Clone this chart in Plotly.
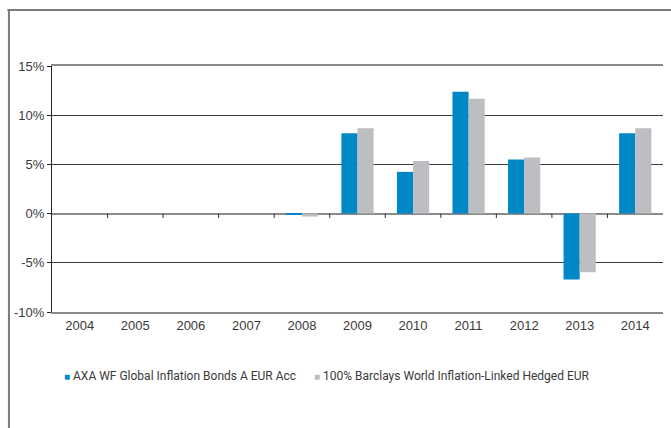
import plotly.graph_objects as go

# Calendar-year returns (%)
years = ["2004", "2005", "2006", "2007", "2008", "2009", "2010", "2011", "2012", "2013", "2014"]
fund_name = "AXA WF Global Inflation Bonds A EUR Acc"
bench_name = "100% Barclays World Inflation-Linked Hedged EUR"
fund_returns = [None, None, None, None, -0.1, 8.16, 4.24, 12.38, 5.51, -6.7, 8.16]
bench_returns = [None, None, None, None, -0.3, 8.67, 5.34, 11.66, 5.7, -5.96, 8.67]
y_ticks = [-10, -5, 0, 5, 10, 15]
y_tick_labels = ["-10%", "-5%", "0%", "5%", "10%", "15%"]

BLUE = "#0088c6"
GREY = "#bdbec2"
TEXT = "#3a3a3a"
AXIS_FONT = "Liberation Sans, Arial, sans-serif"
LEGEND_FONT = "Roboto, Liberation Sans, sans-serif"

fig = go.Figure()
fig.add_trace(go.Bar(x=years, y=fund_returns, name=fund_name,
                     marker=dict(color=BLUE, line=dict(width=0))))
fig.add_trace(go.Bar(x=years, y=bench_returns, name=bench_name,
                     marker=dict(color=GREY, line=dict(width=0))))

# small category separators hanging below the zero line
shapes = []
for i in range(len(years) - 1):
    shapes.append(dict(type="line", xref="x", yref="y", x0=i + 0.5, x1=i + 0.5,
                       y0=0, y1=-0.45, line=dict(color="#333333", width=1)))

# outer frame (top and left rules)
shapes.append(dict(type="line", xref="paper", yref="paper", x0=-0.073, x1=1.02,
                   y0=1.2276, y1=1.2276, line=dict(color="#7a7a7a", width=2)))
shapes.append(dict(type="line", xref="paper", yref="paper", x0=-0.0705, x1=-0.0705,
                   y0=1.2276, y1=-0.48, line=dict(color="#7a7a7a", width=2)))

# legend rendered as a line of text with small coloured squares
legend_html = (f"<span style='color:{BLUE};font-size:10px'>■</span> {fund_name}"
               f"      <span style='color:{GREY};font-size:10px'>■</span> {bench_name}")
annotations = [dict(xref="paper", yref="paper", x=0.016, y=-0.26, xanchor="left",
                    yanchor="middle", showarrow=False, text=legend_html,
                    font=dict(family=LEGEND_FONT, size=12, color=TEXT))]

fig.update_layout(
    width=671, height=428,
    margin=dict(l=52, r=8, t=66, b=116),
    paper_bgcolor="white", plot_bgcolor="white",
    barmode="group", bargap=0.42, bargroupgap=0,
    showlegend=False,
    shapes=shapes, annotations=annotations,
    font=dict(family=AXIS_FONT, color=TEXT, size=13),
    xaxis=dict(type="category", range=[-0.5, len(years) - 0.5],
               showgrid=False, showline=True, mirror=True,
               linecolor="#8a8a8a", linewidth=2, ticks="",
               tickfont=dict(family=AXIS_FONT, size=13, color=TEXT)),
    yaxis=dict(range=[-10, 15], tickmode="array", tickvals=y_ticks, ticktext=y_tick_labels,
               showgrid=True, gridcolor="#3c3c3c", gridwidth=1,
               zeroline=True, zerolinecolor="#8a8a8a", zerolinewidth=2,
               showline=True, linecolor="#222222", linewidth=1,
               ticks="outside", ticklen=4, tickcolor="#222222",
               tickfont=dict(family=AXIS_FONT, size=13, color=TEXT)),
)

fig.write_html("out.html")
